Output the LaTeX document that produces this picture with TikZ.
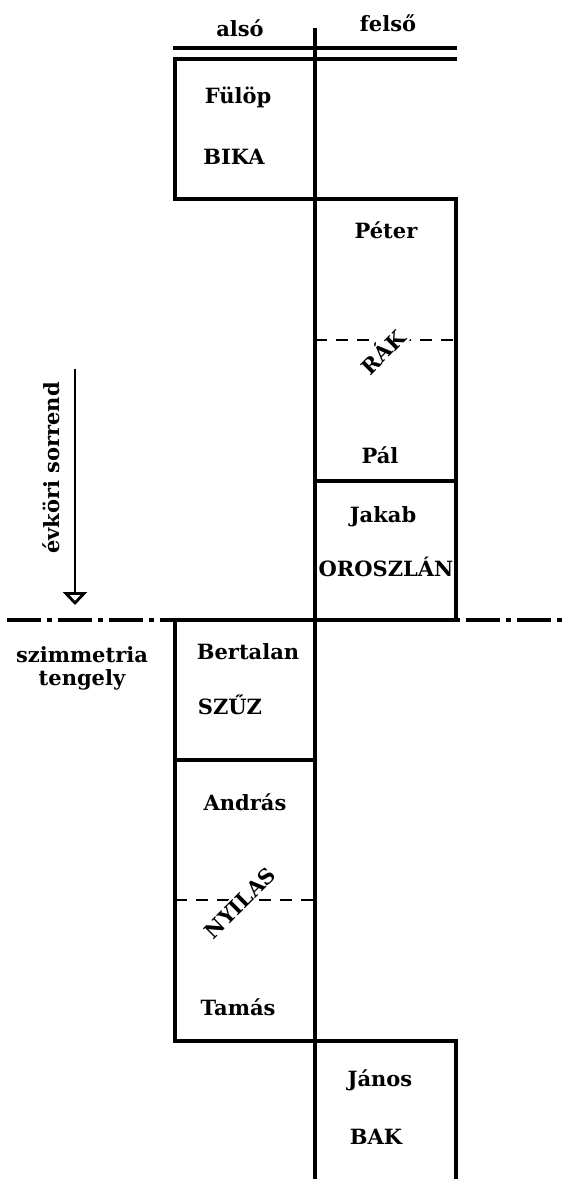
\documentclass[tikz,border=0pt]{standalone}
\usepackage{fontspec}
\setmainfont{DejaVu Serif}
\usetikzlibrary{arrows.meta}
\tikzset{
  rim/.style={line width=3.2pt},
  cut/.style={line width=2.8pt, dash pattern=on 12pt off 9pt},
  axisline/.style={line width=3.2pt, dash pattern=on 34pt off 6pt on 5pt off 6pt},
  saint/.style={font=\bfseries\fontsize{21}{24}\selectfont, inner sep=0pt},
  zodiac/.style={saint, rotate=45, fill=white, inner sep=2pt},
}
\begin{document}
\begin{tikzpicture}[x=1pt, y=-1pt]
    \useasboundingbox (0,0) rectangle (566,1179);
    % header
    \draw[rim] (173,48) -- (457,48);
    \draw[rim] (173,59) -- (457,59);
    \draw[rim] (315,28) -- (315,1179);
    \node[saint] (also) at (240,28) {alsó};
    \node[saint] (felso) at (388,23) {felső};

    % also oldal
    \draw[rim] (175,59) rectangle (315,199);
    \draw[rim] (175,620) rectangle (315,760);
    \draw[rim] (175,760) rectangle (315,1041);
    \draw[cut] (175,900) -- (315,900);

    % felso oldal
    \draw[rim] (315,199) rectangle (456,481);
    \draw[rim] (315,481) rectangle (456,620);
    \draw[rim] (315,1179) -- (315,1041) -- (456,1041) -- (456,1179);
    \draw[cut] (315,340) -- (456,340);

    % szimmetria tengely
    \draw[axisline] (7,620) -- (566,620);

    \node[saint] (fulop) at (238,97) {Fülöp};
    \node[saint] (bika) at (234,157) {BIKA};
    \node[saint] (peter) at (386,230) {Péter};
    \node[zodiac] (rak) at (382,351) {RÁK};
    \node[saint] (pal) at (380,455) {Pál};
    \node[saint] (jakab) at (383,517) {Jakab};
    \node[saint] (oroszlan) at (386,567) {OROSZLÁN};
    \node[saint] (bertalan) at (248,652) {Bertalan};
    \node[saint] (szuz) at (230,705) {SZŰZ};
    \node[saint] (andras) at (245,802) {András};
    \node[zodiac] (nyilas) at (240,903) {NYILAS};
    \node[saint] (tamas) at (238,1007) {Tamás};
    \node[saint] (janos) at (380,1080) {János};
    \node[saint] (bak) at (376,1137) {BAK};

    % evkori sorrend
    \node[saint, rotate=90] (sorrend) at (51,468) {évköri sorrend};
    \coordinate (arrtop) at (75,369);
    \coordinate (arrend) at (75,605);
    \draw[line width=2.8pt, -{Triangle[open, width=24pt, length=13pt]}] (arrtop) -- (arrend);
    \node[saint] (szim) at (82,655) {szimmetria};
    \node[saint] (teng) at (82,680) {tengely};
\end{tikzpicture}
\end{document}
